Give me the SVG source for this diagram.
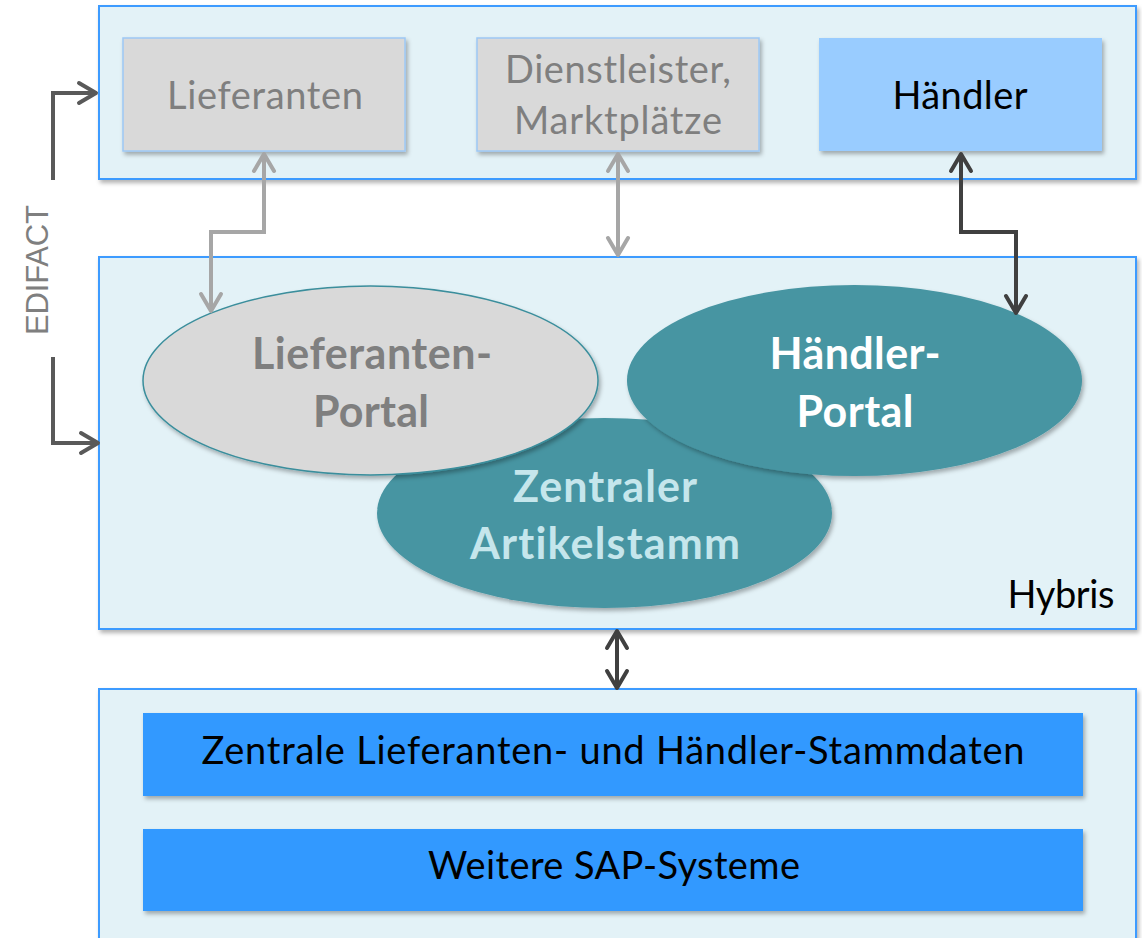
<svg xmlns="http://www.w3.org/2000/svg" width="1142" height="938" viewBox="0 0 1142 938">
<defs>
<style>
.cont{fill:#e3f2f7;stroke:#3d9bff;stroke-width:2;filter:url(#sh)}
.gbox{fill:#d9d9d9;stroke:#9dc8f5;stroke-width:1.5;filter:url(#sh)}
.t{font-family:Lato,"Open Sans",sans-serif;font-size:38px;text-anchor:middle;font-variant-ligatures:none}
.tb{font-family:Lato,"Open Sans",sans-serif;font-size:43px;font-weight:bold;text-anchor:middle;font-variant-ligatures:none}
.con{fill:none;stroke-width:4;stroke-linejoin:miter}
</style>
<filter id="sh" x="-10%" y="-10%" width="120%" height="130%">
<feDropShadow dx="2" dy="3" stdDeviation="2" flood-color="#000" flood-opacity="0.3"/>
</filter>
<marker id="ag" viewBox="0 0 22 24" refX="19" refY="12" markerWidth="22" markerHeight="24" markerUnits="userSpaceOnUse" orient="auto-start-reverse" overflow="visible"><path d="M2,2 L19,12 L2,22" fill="none" stroke="#a6a6a6" stroke-width="4" stroke-linecap="round" stroke-linejoin="round"/></marker>
<marker id="ad" viewBox="0 0 22 24" refX="19" refY="12" markerWidth="22" markerHeight="24" markerUnits="userSpaceOnUse" orient="auto-start-reverse" overflow="visible"><path d="M2,2 L19,12 L2,22" fill="none" stroke="#404040" stroke-width="4" stroke-linecap="round" stroke-linejoin="round"/></marker>
<marker id="ae" viewBox="0 0 22 24" refX="19" refY="12" markerWidth="22" markerHeight="24" markerUnits="userSpaceOnUse" orient="auto-start-reverse" overflow="visible"><path d="M2,2 L19,12 L2,22" fill="none" stroke="#595959" stroke-width="4" stroke-linecap="round" stroke-linejoin="round"/></marker>
</defs>
<rect width="1142" height="938" fill="#ffffff"/>

<g id="top-container"><rect class="cont" x="99" y="6" width="1037" height="173"/></g>
<g id="hybris"><rect class="cont" x="99" y="257" width="1037" height="372"/>
<text class="t" x="1061" y="608" fill="#000" textLength="107">Hybris</text></g>
<g id="bottom-container"><rect class="cont" x="99" y="689" width="1037" height="280"/></g>

<g id="lieferanten"><rect class="gbox" x="123" y="38" width="282" height="113"/>
<text class="t" x="265" y="109" fill="#7f7f7f" textLength="196">Lieferanten</text></g>
<g id="dienstleister"><rect class="gbox" x="477" y="38" width="282" height="113"/>
<text class="t" x="618" y="83" fill="#7f7f7f" textLength="226">Dienstleister,</text>
<text class="t" x="618" y="134" fill="#7f7f7f" textLength="208">Marktplätze</text></g>
<g id="haendler"><rect x="819" y="38" width="283" height="113" fill="#99ccff" filter="url(#sh)"/>
<text class="t" x="960" y="109" fill="#000" textLength="135">Händler</text></g>

<g id="zentraler-artikelstamm"><ellipse cx="604.5" cy="513" rx="227.5" ry="95" fill="#4795a2" filter="url(#sh)"/>
<text class="tb" x="605" y="502" fill="#c5e6ec" textLength="184">Zentraler</text>
<text class="tb" x="605" y="559" fill="#c5e6ec" textLength="270">Artikelstamm</text></g>
<g id="lieferanten-portal"><ellipse cx="370.5" cy="380.5" rx="227.5" ry="94.5" fill="#d9d9d9" stroke="#3a8e9c" stroke-width="1.5" filter="url(#sh)"/>
<text class="tb" x="372" y="369" fill="#7f7f7f" textLength="240">Lieferanten-</text>
<text class="tb" x="371" y="427" fill="#7f7f7f" textLength="116">Portal</text></g>
<g id="haendler-portal"><ellipse cx="854.5" cy="380.5" rx="227.5" ry="95.5" fill="#4795a2" filter="url(#sh)"/>
<text class="tb" x="855" y="369" fill="#ffffff" textLength="171">Händler-</text>
<text class="tb" x="855" y="427" fill="#ffffff" textLength="117">Portal</text></g>

<g id="stammdaten"><rect x="143" y="713" width="940" height="83" fill="#3399ff" filter="url(#sh)"/>
<text class="t" x="613" y="764" fill="#000" textLength="823">Zentrale Lieferanten- und Händler-Stammdaten</text></g>
<g id="sap"><rect x="143" y="829" width="940" height="82" fill="#3399ff" filter="url(#sh)"/>
<text class="t" x="614" y="879" fill="#000" textLength="372">Weitere SAP-Systeme</text></g>

<g id="edifact-label"><text x="0" y="0" transform="translate(48 270) rotate(-90)" font-family="'Liberation Sans',Arial,sans-serif" font-size="31" fill="#7f7f7f" text-anchor="middle" textLength="130">EDIFACT</text></g>

<g id="connectors">
<path class="con" d="M53,180 V93 H96" stroke="#595959" marker-end="url(#ae)"/>
<path class="con" d="M53,357 V443 H98" stroke="#595959" marker-end="url(#ae)"/>
<path class="con" d="M264,154 V232 H211 V311" stroke="#a6a6a6" marker-start="url(#ag)" marker-end="url(#ag)"/>
<path class="con" d="M618,154 V255" stroke="#a6a6a6" marker-start="url(#ag)" marker-end="url(#ag)"/>
<path class="con" d="M961,154 V232 H1016 V313" stroke="#404040" marker-start="url(#ad)" marker-end="url(#ad)"/>
<path class="con" d="M617,631 V688" stroke="#404040" marker-start="url(#ad)" marker-end="url(#ad)"/>
</g>
</svg>
